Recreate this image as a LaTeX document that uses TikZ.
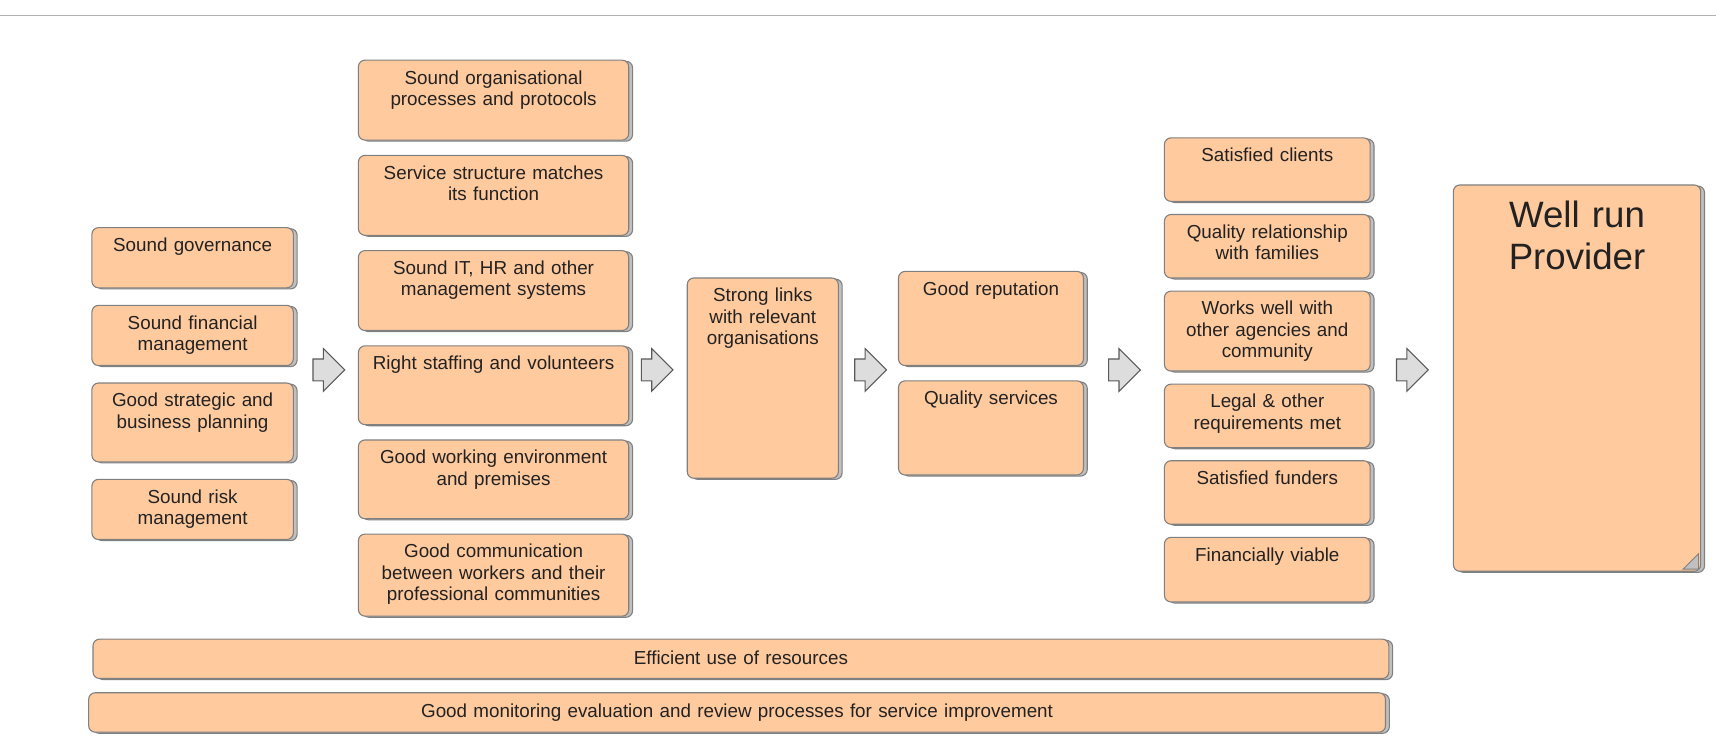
\documentclass[tikz,border=0pt]{standalone}
\usepackage{fontspec}
\setmainfont{Liberation Sans}
\usetikzlibrary{positioning}
\usetikzlibrary{chains,shadows,shapes.arrows}
\definecolor{peach}{RGB}{255,202,158}
\definecolor{edgegray}{RGB}{128,128,128}
\definecolor{shadegray}{RGB}{192,192,192}
\definecolor{arrowgray}{RGB}{221,221,221}
\definecolor{textgray}{RGB}{34,34,34}
\tikzset{
	factor/.style={
		rectangle,
		rounded corners=6pt,
		fill=peach,
		draw=edgegray, line width=1pt,
		copy shadow={shadow xshift=3.5pt, shadow yshift=-1pt, fill=shadegray, draw=edgegray},
		text=textgray,
		align=center,
		outer sep=0pt,
		inner xsep=4pt, inner ysep=9.5pt,
		text height=12.3pt,
		font=\fontsize{17.2}{19.5}\selectfont},
	factorchain/.style={
		factor,
		on chain},
	blockarrow/.style={
		single arrow,
		draw=black!65, fill=arrowgray, line width=1pt,
		minimum width=38pt, minimum height=29pt,
		single arrow head extend=9.5pt,
		inner xsep=0pt, inner ysep=9.5pt,
		outer sep=0pt, anchor=tail},
	fold/.style={draw=edgegray, fill=shadegray, line width=0.8pt},
	topline/.style={draw=black!30, line width=1.5pt},
}
\begin{document}
\begin{tikzpicture}[x=1pt, y=1pt]
	\useasboundingbox (0,0) rectangle (1568,-686.2);
	\draw[topline] (0,-14.3) -- (1568,-14.3);

	% governance column
	\begin{scope}[start chain=gov going below, node distance=16pt]
		\node[factorchain, text width=176pt, text depth=23.7pt, anchor=north] (eins) at (176,-208) {Sound governance};
		\node[factorchain, text width=176pt, text depth=23.7pt] (zwei) {Sound financial\\management};
		\node[factorchain, text width=176pt, text depth=40.7pt] (drei) {Good strategic and\\business planning};
		\node[factorchain, text width=176pt, text depth=23.7pt] (vier) {Sound risk\\management};
	\end{scope}

	% organisation column
	\begin{scope}[start chain=org going below, node distance=14pt]
		\node[factorchain, text width=239pt, text depth=41.7pt, anchor=north] (proc) at (451,-55) {Sound organisational\\processes and protocols};
		\node[factorchain, text width=239pt, text depth=41.7pt] (struct) {Service structure matches\\its function};
		\node[factorchain, text width=239pt, text depth=41.7pt] (sys) {Sound IT, HR and other\\management systems};
		\node[factorchain, text width=239pt, text depth=40.7pt] (staff) {Right staffing and volunteers};
		\node[factorchain, text width=239pt, text depth=40.7pt] (env) {Good working environment\\and premises};
		\node[factorchain, text width=239pt, text depth=43.7pt] (comm) {Good communication\\between workers and their\\professional communities};
	\end{scope}

	\node[factor, text width=130pt, text depth=151.7pt, anchor=north] (links) at (697,-254) {Strong links\\with relevant\\organisations};

	% reputation column
	\begin{scope}[start chain=rep going below, node distance=14pt]
		\node[factorchain, text width=161pt, text depth=54.7pt, anchor=north] (repu) at (905.5,-248) {Good reputation};
		\node[factorchain, text width=161pt, text depth=54.7pt] (qual) {Quality services};
	\end{scope}

	% outcome column
	\begin{scope}[start chain=out going below, node distance=12pt]
		\node[factorchain, text width=180pt, text depth=26.7pt, anchor=north] (clients) at (1158,-126) {Satisfied clients};
		\node[factorchain, text width=180pt, text depth=26.7pt] (families) {Quality relationship\\with families};
		\node[factorchain, text width=180pt, text depth=41.7pt] (agencies) {Works well with\\other agencies and\\community};
		\node[factorchain, text width=180pt, text depth=26.7pt] (legal) {Legal \& other\\requirements met};
		\node[factorchain, text width=180pt, text depth=26.7pt] (funders) {Satisfied funders};
		\node[factorchain, text width=180pt, text depth=27.7pt] (viable) {Financially viable};
	\end{scope}

	\node[factor, text width=218pt, inner ysep=15pt, text height=24pt, text depth=299pt, font=\fontsize{33.5}{38}\selectfont, anchor=north] (goal) at (1441,-169) {Well run\\Provider};
	\coordinate (ecke) at ([shift={(-2,2)}]goal.south east);
	\draw[fold] (ecke) -- ++(-14,0) -- ++(14,14) -- cycle;

	% arrows between the columns
	\node[blockarrow] (p1) at (286,-338) {};
	\node[blockarrow] (p2) at (586,-338) {};
	\node[blockarrow] (p3) at (781,-338) {};
	\node[blockarrow] (p4) at (1013,-338) {};
	\node[blockarrow] (p5) at (1276,-338) {};

	\node[factor, text width=1176pt, inner ysep=10.5pt, text depth=2.7pt, anchor=north] (res) at (677,-584) {Efficient use of resources};
	\node[factor, text width=1177pt, inner ysep=10.5pt, text depth=2.7pt, anchor=north] (mon) at (673.5,-633) {Good monitoring evaluation and review processes for service improvement};
\end{tikzpicture}
\end{document}
